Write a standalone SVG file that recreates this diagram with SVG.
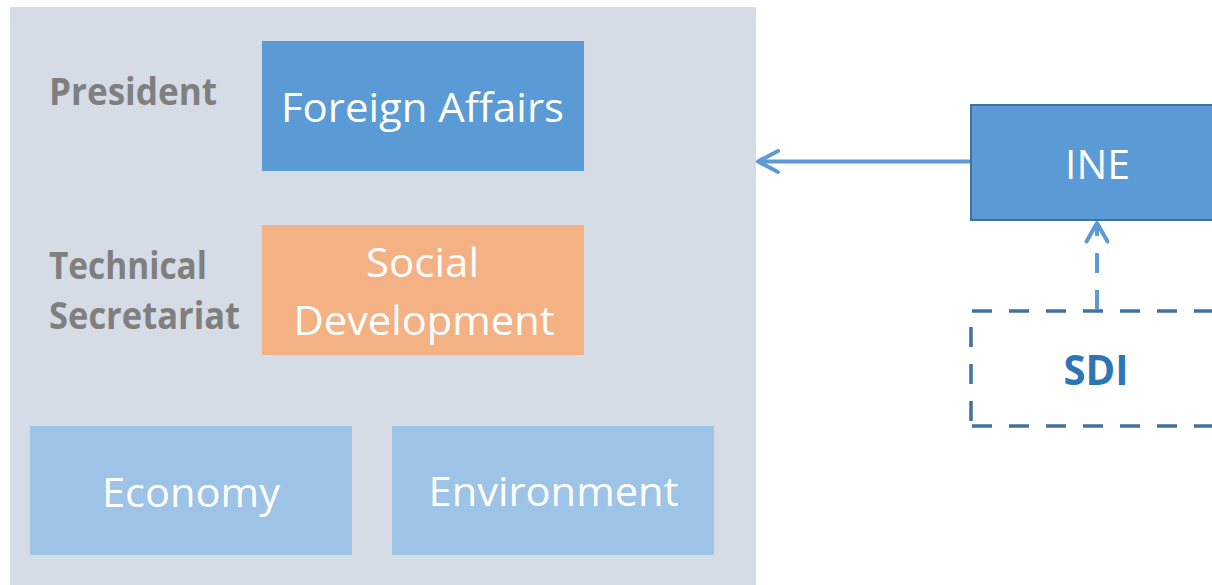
<svg xmlns="http://www.w3.org/2000/svg" width="1212" height="585" viewBox="0 0 1212 585">
<defs>
<style>
.lbl{font-family:"Open Sans","Noto Sans",sans-serif;font-weight:bold;font-size:37px;fill:#7F7F7F}
.wt{font-family:"Open Sans","Noto Sans",sans-serif;font-size:41px;fill:#FFFFFF}
.sdi{font-family:"Open Sans","Noto Sans",sans-serif;font-weight:bold;font-size:41px;fill:#2E75B6}
.dash{fill:none;stroke:#41719C;stroke-width:3.5;stroke-dasharray:20 17}
</style>
</defs>
<g id="panel">
<rect x="10" y="7" width="746" height="578" fill="#D6DCE5"/>
<text class="lbl" x="49" y="105" textLength="168" lengthAdjust="spacingAndGlyphs">President</text>
<text class="lbl" x="49" y="279" textLength="158" lengthAdjust="spacingAndGlyphs">Technical</text>
<text class="lbl" x="49" y="329" textLength="191" lengthAdjust="spacingAndGlyphs">Secretariat</text>
</g>
<g id="foreign-affairs">
<rect x="262" y="41" width="322" height="130" fill="#5B9BD5"/>
<text class="wt" x="422.5" y="122" text-anchor="middle" textLength="283" lengthAdjust="spacingAndGlyphs">Foreign Affairs</text>
</g>
<g id="social-development">
<rect x="262" y="225" width="322" height="130" fill="#F4B183"/>
<text class="wt" x="422.5" y="276.5" text-anchor="middle" textLength="113" lengthAdjust="spacingAndGlyphs">Social</text>
<text class="wt" x="424" y="334.5" text-anchor="middle" textLength="261" lengthAdjust="spacingAndGlyphs">Development</text>
</g>
<g id="economy">
<rect x="30" y="426" width="322" height="129" fill="#9DC3E6"/>
<text class="wt" x="191" y="507" text-anchor="middle" textLength="178" lengthAdjust="spacingAndGlyphs">Economy</text>
</g>
<g id="environment">
<rect x="392" y="426" width="322" height="129" fill="#9DC3E6"/>
<text class="wt" x="553.5" y="506" text-anchor="middle" textLength="250" lengthAdjust="spacingAndGlyphs">Environment</text>
</g>
<g id="ine">
<rect x="971" y="105" width="260" height="115" fill="#5B9BD5" stroke="#41719C" stroke-width="2"/>
<text class="wt" x="1097.5" y="178.5" text-anchor="middle" textLength="65" lengthAdjust="spacingAndGlyphs">INE</text>
</g>
<g id="sdi">
<path class="dash" d="M972,311 H1240"/>
<path class="dash" d="M972,426 H1240"/>
<path class="dash" d="M971,327 V430"/>
<text class="sdi" x="1096" y="385" text-anchor="middle" textLength="65" lengthAdjust="spacingAndGlyphs">SDI</text>
</g>
<g id="connectors" fill="none" stroke="#5B9BD5" stroke-width="4" stroke-linecap="round" stroke-linejoin="round">
<path d="M970,161.5 H759" stroke-linecap="butt"/>
<path d="M778,151 L758,161.5 L778,172"/>
<path d="M1097,310 V225" stroke-dasharray="20 17" stroke-linecap="butt"/>
<path d="M1086.5,241.5 L1097,223 L1107.5,241.5"/>
</g>
</svg>
